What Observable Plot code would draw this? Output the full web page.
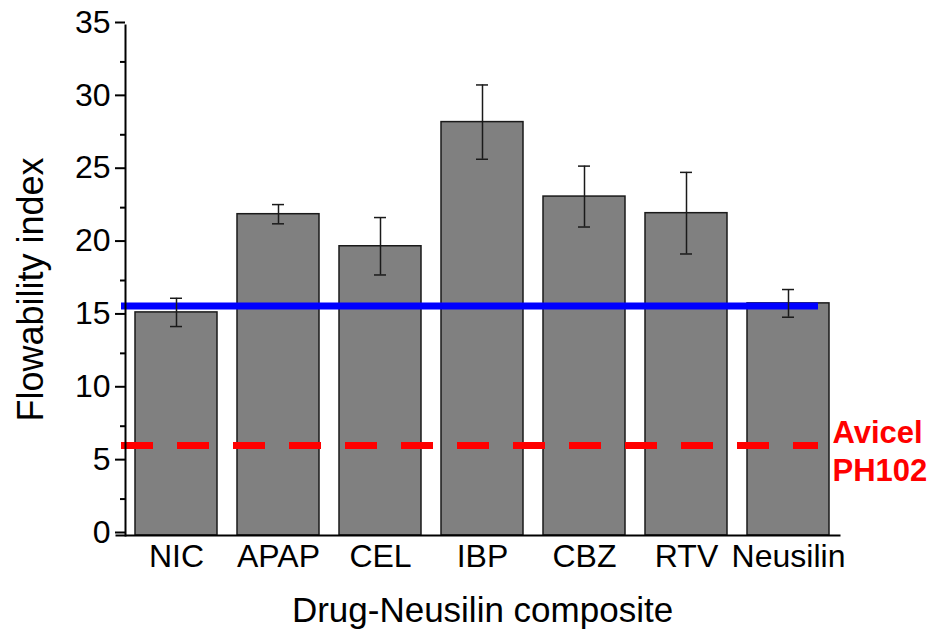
<!DOCTYPE html>
<html>
<head>
<meta charset="utf-8">
<script src="https://cdn.jsdelivr.net/npm/d3@7"></script>
<script src="https://cdn.jsdelivr.net/npm/@observablehq/plot@0.6"></script>
<style>
  html, body { margin: 0; padding: 0; background: #fff; }
  #chart { width: 931px; height: 630px; }
</style>
</head>
<body>
<div id="chart"></div>
<script>
const categories = ["NIC", "APAP", "CEL", "IBP", "CBZ", "RTV", "Neusilin"];
const means = [15.31, 22.05, 19.85, 28.37, 23.26, 22.12, 15.93];
const sds = [0.97, 0.66, 1.97, 2.55, 2.09, 2.8, 0.95];
const neusilinRef = 15.75;     // blue reference line
const avicelRef = 6.17;        // red dashed reference line
const avicelLabel = "Avicel\nPH102";
const majorTicks = [0, 5, 10, 15, 20, 25, 30, 35];
const minorTicks = [2.5, 7.5, 12.5, 17.5, 22.5, 27.5, 32.5];
const xTitle = "Drug-Neusilin composite";
const yTitle = "Flowability index";

const data = categories.map((c, i) => ({
  cat: c, val: means[i], lo: means[i] - sds[i], hi: means[i] + sds[i]
}));

const chart = Plot.plot({
  width: 931,
  height: 630,
  marginLeft: 125,
  marginRight: 92,
  marginTop: 25,
  marginBottom: 95,
  style: { fontFamily: "'Liberation Sans', Arial, sans-serif", background: "#fff", color: "#000" },
  x: { type: "band", domain: categories, paddingInner: 0.2, paddingOuter: 0.1 },
  y: { domain: [0, 35] },
  marks: [
    Plot.barY(data, { x: "cat", y: "val", fill: "#808080", stroke: "#1a1a1a", strokeWidth: 1.5 }),
    Plot.ruleY([neusilinRef], { stroke: "#0000ff", strokeWidth: 7, insetLeft: -4, insetRight: 21 }),
    Plot.ruleY([avicelRef], { stroke: "#ff0000", strokeWidth: 7, strokeDasharray: "32,24", insetLeft: -4, insetRight: 21 }),
    Plot.ruleX(data, { x: "cat", y1: "lo", y2: "hi", stroke: "#1a1a1a", strokeWidth: 1.5 }),
    Plot.tickY(data, { x: "cat", y: "lo", stroke: "#1a1a1a", strokeWidth: 1.5, insetLeft: 35, insetRight: 35 }),
    Plot.tickY(data, { x: "cat", y: "hi", stroke: "#1a1a1a", strokeWidth: 1.5, insetLeft: 35, insetRight: 35 }),
    Plot.frame({ anchor: "left", stroke: "#000", strokeWidth: 2 }),
    Plot.frame({ anchor: "bottom", stroke: "#000", strokeWidth: 2, insetLeft: -9 }),
    Plot.axisY({ ticks: majorTicks, tickSize: 10, tickPadding: 5, fontSize: 32, strokeWidth: 2, dy: -3, tickFormat: d => String(d), label: null, color: "#000" }),
    Plot.axisY({ ticks: minorTicks, tickSize: 5, strokeWidth: 2, tickFormat: () => "", label: null }),
    Plot.axisX({ tickSize: 0, tickPadding: 9, fontSize: 32, label: null, color: "#000" }),
    Plot.text([xTitle], { text: d => d, frameAnchor: "bottom", textAnchor: "middle", lineAnchor: "middle", dy: 75, fontSize: 35, fill: "#000" }),
    Plot.text([yTitle], { text: d => d, frameAnchor: "left", textAnchor: "middle", lineAnchor: "middle", rotate: -90, dx: -94, dy: 9, fontSize: 36, fill: "#000" }),
    Plot.text([avicelRef], { y: d => d, text: () => avicelLabel, frameAnchor: "right", textAnchor: "start", lineAnchor: "middle", dx: -7, dy: 4, fontSize: 31, fontWeight: "bold", lineHeight: 1.22, fill: "#ff0000" })
  ]
});
document.getElementById("chart").appendChild(chart);
</script>
</body>
</html>
